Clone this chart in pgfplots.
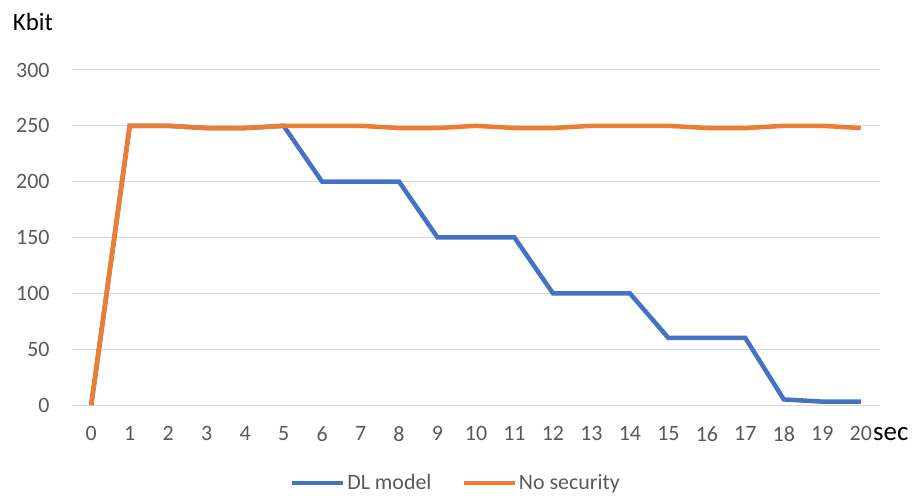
\documentclass[border=0pt]{standalone}
\usepackage{pgfplots}
\pgfplotsset{compat=1.18}
\usepackage{fontspec}
\setmainfont{Carlito}
\definecolor{dlblue}{HTML}{4472C4}
\definecolor{nsorange}{HTML}{ED7D31}
\definecolor{gridgray}{HTML}{D9D9D9}
\definecolor{labelgray}{HTML}{595959}
\begin{document}
\begin{tikzpicture}
\useasboundingbox (0bp,0bp) rectangle (912bp,497bp);
\begin{axis}[
  at={(72bp,92bp)}, anchor=south west,
  scale only axis, width=808bp, height=335bp,
  xmin=-0.5, xmax=20.5, ymin=0, ymax=300,
  xtick={0,...,20}, ytick={0,50,...,300},
  axis line style={draw=none},
  major tick length=0pt,
  ymajorgrids, grid style={gridgray, line width=1bp},
  tick label style={font=\fontsize{22}{26}\selectfont, text=labelgray},
  /pgf/number format/assume math mode=true,
  xticklabel style={yshift=-18bp},
  yticklabel style={xshift=-19bp},
  clip=false,
  legend style={at={(0.475,-0.233)}, anchor=center, draw=none, fill=none,
    legend columns=2, font=\fontsize{22}{26}\selectfont, text=labelgray,
    /tikz/every even column/.append style={column sep=28bp}},
  legend image code/.code={\draw[#1] (0bp,0bp) -- (51bp,0bp);},
]
\addplot[dlblue, line width=4.5bp] coordinates {
  (0,0) (1,250) (2,250) (3,248) (4,248) (5,250) (6,200) (7,200) (8,200)
  (9,150) (10,150) (11,150) (12,100) (13,100) (14,100) (15,60) (16,60)
  (17,60) (18,5) (19,3) (20,3)};
\addlegendentry{DL model}
\addplot[nsorange, line width=4.5bp] coordinates {
  (0,0) (1,250) (2,250) (3,248) (4,248) (5,250) (6,250) (7,250) (8,248)
  (9,248) (10,250) (11,248) (12,248) (13,250) (14,250) (15,250) (16,248)
  (17,248) (18,250) (19,250) (20,248)};
\addlegendentry{No security}
\end{axis}
\node[anchor=center] at (33bp,475bp) {\fontsize{25}{30}\selectfont Kbit};
\node[anchor=base west, inner sep=0pt] at (873bp,56bp) {\fontsize{27}{32}\selectfont sec};
\end{tikzpicture}
\end{document}
